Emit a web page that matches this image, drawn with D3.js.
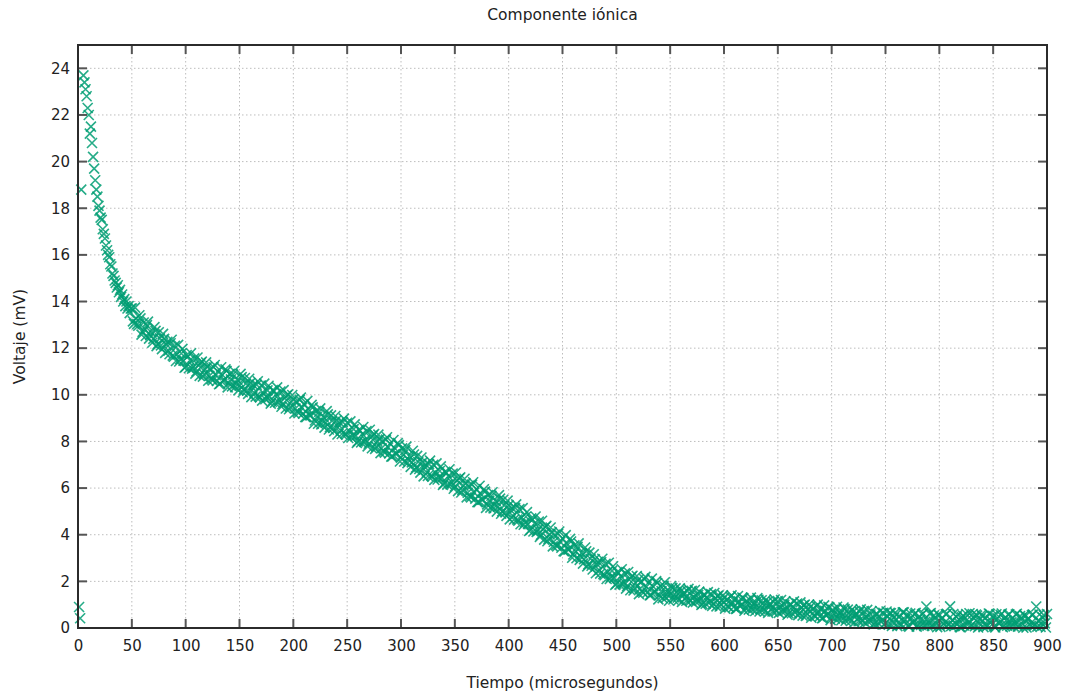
<!DOCTYPE html>
<html>
  <head>
    <title>Componente iónica</title>
    <script src="https://cdn.jsdelivr.net/npm/d3@7"></script>
    <style>
      body { margin: 0; background: #fff; }
      text { font-family: "DejaVu Sans", Verdana, sans-serif; fill: #222; }
      .grid line { stroke: #bdbdbd; stroke-dasharray: 1.5,2.5; }
      .tick-mark { stroke: #555; stroke-width: 2; }
      .marca { fill: none; stroke: #009e73; stroke-width: 1.6; stroke-opacity: 0.85; }
    </style>
  </head>
  <body>
    <svg id="chart" width="1069" height="694"></svg>

    <script>
      // puntos sueltos al inicio (µs, mV)
      var tiempoAtipicos = [1, 2, 3];
      var voltajeAtipicos = [0.9, 0.42, 18.8];

      // tramo rápido: desde 5 µs, cada 1 µs
      var tInicio = 5, pasoInicio = 1;
      var voltajeInicio = [
        23.7, 23.4, 23.1, 22.8, 22.3, 22.0, 21.2, 21.5, 20.8, 20.2,
        19.7, 19.2, 18.8, 18.5, 18.1, 17.9, 17.6, 17.5, 17.1, 16.9,
        16.7, 16.4, 16.2, 16.0, 15.9, 15.6, 15.5, 15.2, 15.1, 14.9,
        14.8, 14.6, 14.7, 14.4, 14.5, 14.2, 14.3, 14.0, 14.1, 13.8,
        14.0, 13.7, 13.8, 13.5, 13.7
      ];

      // resto (muestras pares): desde 50 µs, cada 2 µs
      var tPrincipal = 50, pasoPrincipal = 2;
      var voltajePrincipal = [
        13.7,13.04,13.28,12.96,13.28,12.7,12.82,12.99,12.41,12.68,
        12.4,12.74,12.18,12.42,11.96,12.4,12.17,11.89,12.21,11.68,
        12.1,11.74,11.43,11.77,11.46,11.2,11.64,11.48,11.12,11.56,
        11.0,11.26,11.37,10.78,11.09,11.2,10.81,10.67,11.18,10.84,
        11.0,10.48,10.86,10.64,11.02,10.5,10.66,10.87,10.33,10.64,
        10.4,10.76,10.22,10.48,10.04,10.5,10.31,10.07,10.43,9.94,
        10.4,10.08,9.81,10.19,9.92,9.7,10.16,10.02,9.68,10.14,
        9.6,9.86,9.97,9.38,9.69,9.8,9.41,9.27,9.78,9.44,
        9.6,9.04,9.38,9.12,9.46,8.9,9.06,9.27,8.73,9.04,
        8.8,9.16,8.62,8.88,8.44,8.9,8.71,8.47,8.83,8.34,
        8.8,8.46,8.17,8.53,8.24,8.0,8.46,8.32,7.98,8.44,
        7.9,8.16,8.27,7.68,7.99,8.1,7.71,7.57,8.08,7.74,
        7.9,7.36,7.72,7.48,7.84,7.3,7.44,7.63,7.07,7.36,
        7.1,7.44,6.88,7.12,6.66,7.1,6.91,6.67,7.03,6.54,
        7.0,6.66,6.37,6.73,6.44,6.2,6.65,6.51,6.16,6.62,
        6.07,6.32,6.41,5.81,6.1,6.2,5.8,5.65,6.15,5.8,
        5.95,5.4,5.75,5.5,5.85,5.3,5.46,5.67,5.13,5.44,
        5.2,5.55,5.0,5.26,4.81,5.26,5.05,4.8,5.15,4.65,
        5.1,4.74,4.43,4.77,4.46,4.2,4.64,4.48,4.12,4.56,
        4.0,4.24,4.33,3.72,4.01,4.1,3.7,3.55,4.04,3.69,
        3.84,3.28,3.62,3.37,3.71,3.15,3.29,3.48,2.92,3.21,
        2.95,3.29,2.73,2.97,2.51,2.95,2.74,2.48,2.82,2.31,
        2.75,2.4,2.1,2.45,2.15,1.9,2.36,2.22,1.88,2.34,
        1.8,2.07,2.19,1.61,1.93,2.05,1.68,1.56,2.09,1.77,
        1.95,1.42,1.79,1.56,1.93,1.4,1.58,1.81,1.29,1.62,
        1.42,1.72,1.31,1.53,1.2,1.58,1.45,1.27,1.58,1.2,
        1.59,1.33,1.12,1.42,1.21,1.03,1.42,1.32,1.07,1.45,
        1.04,1.27,1.37,0.92,1.18,1.29,1.0,0.91,1.34,1.09,
        1.24,0.83,1.14,0.97,1.28,0.86,1.01,1.2,0.8,1.07,
        0.9,1.21,0.8,1.04,0.71,1.11,0.98,0.81,1.12,0.76,
        1.15,0.9,0.69,1.0,0.79,0.62,1.01,0.92,0.66,1.05,
        0.64,0.87,0.97,0.52,0.79,0.9,0.61,0.52,0.94,0.69,
        0.84,0.43,0.74,0.57,0.88,0.47,0.62,0.81,0.4,0.67,
        0.5,0.81,0.4,0.63,0.3,0.69,0.56,0.39,0.7,0.33,
        0.73,0.48,0.27,0.58,0.37,0.21,0.6,0.51,0.26,0.65,
        0.21,0.5,0.65,0.09,0.44,0.58,0.23,0.12,0.67,0.36,
        0.56,0.06,0.45,0.25,0.65,0.15,0.35,0.59,0.09,0.92,
        0.24,0.64,0.14,0.44,0.04,0.54,0.39,0.19,0.59,0.14,
        0.93,0.33,0.08,0.48,0.23,0.03,0.53,0.43,0.13,0.63,
        0.12,0.43,0.58,0.02,0.38,0.52,0.17,0.07,0.62,0.32,
        0.52,0.02,0.42,0.22,0.62,0.12,0.32,0.57,0.07,0.42,
        0.21,0.61,0.11,0.41,0.01,0.51,0.36,0.16,0.56,0.11,
        0.92,0.3,0.05,0.45,0.2,0.6
      ];

      // resto (muestras impares): desde 51 µs, cada 2 µs
      var tSecundario = 51, pasoSecundario = 2;
      var voltajeSecundario = [
        13.15,13.74,13.03,13.41,12.58,13.1,12.52,13.14,12.56,12.23,
        12.9,12.09,12.68,12.12,12.61,11.8,12.27,11.74,12.36,11.63,
        11.45,12.14,11.53,11.97,11.16,11.7,11.14,11.78,11.22,10.91,
        11.6,10.81,11.42,10.88,11.39,10.6,11.11,10.62,11.28,10.59,
        10.45,11.18,10.61,11.09,10.32,10.9,10.36,11.02,10.48,10.19,
        10.9,10.11,10.72,10.18,10.69,9.9,10.41,9.92,10.58,9.89,
        9.75,10.48,9.91,10.39,9.62,10.2,9.66,10.32,9.78,9.49,
        10.2,9.41,10.02,9.48,9.99,9.2,9.71,9.22,9.88,9.19,
        9.05,9.74,9.13,9.57,8.76,9.3,8.76,9.42,8.88,8.59,
        9.3,8.51,9.12,8.58,9.09,8.3,8.81,8.32,8.98,8.29,
        8.15,8.86,8.27,8.73,7.94,8.5,7.96,8.62,8.08,7.79,
        8.5,7.71,8.32,7.78,8.29,7.5,8.01,7.52,8.18,7.49,
        7.35,8.06,7.47,7.93,7.14,7.7,7.14,7.78,7.22,6.91,
        7.6,6.79,7.38,6.82,7.31,6.5,7.01,6.52,7.18,6.49,
        6.35,7.06,6.47,6.93,6.14,6.7,6.15,6.81,6.26,5.97,
        6.67,5.87,6.46,5.91,6.4,5.6,6.1,5.6,6.25,5.55,
        5.4,6.1,5.5,5.95,5.15,5.7,5.16,5.82,5.28,4.99,
        5.7,4.9,5.5,4.96,5.46,4.66,5.15,4.65,5.3,4.6,
        4.45,5.14,4.53,4.97,4.16,4.7,4.14,4.78,4.22,3.91,
        4.6,3.79,4.38,3.82,4.31,3.5,4.0,3.5,4.14,3.44,
        3.29,3.98,3.37,3.82,3.01,3.55,2.99,3.63,3.07,2.76,
        3.45,2.64,3.23,2.67,3.16,2.35,2.84,2.33,2.97,2.26,
        2.1,2.8,2.2,2.65,1.85,2.4,1.86,2.52,1.98,1.69,
        2.4,1.62,2.24,1.71,2.23,1.45,1.98,1.51,2.19,1.52,
        1.4,2.12,1.54,2.01,1.23,1.8,1.28,1.96,1.44,1.17,
        1.8,1.22,1.7,1.3,1.7,1.12,1.52,1.17,1.68,1.17,
        1.09,1.63,1.21,1.56,0.99,1.42,1.04,1.54,1.16,0.95,
        1.5,0.93,1.4,1.01,1.4,0.83,1.23,0.88,1.4,0.9,
        0.82,1.37,0.95,1.31,0.74,1.17,0.79,1.3,0.93,0.73,
        1.28,0.71,1.19,0.81,1.21,0.65,1.05,0.71,1.22,0.73,
        0.65,1.2,0.78,1.14,0.57,1.01,0.63,1.14,0.75,0.55,
        1.1,0.53,1.0,0.61,1.01,0.44,0.84,0.5,1.0,0.5,
        0.42,0.97,0.55,0.91,0.34,0.78,0.4,0.91,0.53,0.33,
        0.88,0.31,0.79,0.4,0.8,0.23,0.63,0.29,0.8,0.3,
        0.23,0.78,0.36,0.72,0.15,0.6,0.22,0.73,0.35,0.15,
        0.71,0.14,0.63,0.24,0.65,0.08,0.49,0.15,0.67,0.17,
        0.1,0.62,0.24,0.59,0.06,0.48,0.13,0.62,0.27,0.1,
        0.61,0.09,0.54,0.19,0.58,0.05,0.44,0.12,0.61,0.16,
        0.08,0.6,0.22,0.57,0.04,0.46,0.11,0.6,0.25,0.08,
        0.6,0.08,0.53,0.18,0.57,0.04,0.43,0.11,0.6,0.15,
        0.07,0.59,0.21,0.56,0.03,0.45,0.1,0.59,0.24,0.07,
        0.58,0.06,0.51,0.16,0.55,0.02,0.41,0.09,0.58,0.13,
        0.06,0.58,0.2,0.55,0.02
      ];

      var ticksX = [0, 50, 100, 150, 200, 250, 300, 350, 400, 450, 500, 550, 600, 650, 700, 750, 800, 850, 900];
      var ticksY = [0, 2, 4, 6, 8, 10, 12, 14, 16, 18, 20, 22, 24];

      var puntos = [];
      tiempoAtipicos.forEach((t, i) => puntos.push({t: t, v: voltajeAtipicos[i]}));
      voltajeInicio.forEach((v, i) => puntos.push({t: tInicio + i * pasoInicio, v: v}));
      voltajePrincipal.forEach((v, i) => puntos.push({t: tPrincipal + i * pasoPrincipal, v: v}));
      voltajeSecundario.forEach((v, i) => puntos.push({t: tSecundario + i * pasoSecundario, v: v}));

      var margin = {top: 45, right: 22, bottom: 66, left: 78};
      var width = 1069 - margin.left - margin.right;
      var height = 694 - margin.top - margin.bottom;

      var svg = d3.select("#chart");
      var g = svg.append("g").attr("transform", `translate(${margin.left},${margin.top})`);

      var x = d3.scaleLinear().domain([0, 900]).range([0, width]);
      var y = d3.scaleLinear().domain([0, 25]).range([height, 0]);

      // rejilla punteada
      var grid = g.append("g").attr("class", "grid");
      grid.selectAll("line.gx")
        .data(ticksX.slice(1, -1))
        .enter().append("line")
          .attr("x1", d => x(d)).attr("x2", d => x(d))
          .attr("y1", 0).attr("y2", height);
      grid.selectAll("line.gy")
        .data(ticksY.slice(1))
        .enter().append("line")
          .attr("x1", 0).attr("x2", width)
          .attr("y1", d => y(d)).attr("y2", d => y(d));

      // marcas en forma de x
      var s = 5;
      g.append("g").selectAll("path")
        .data(puntos)
        .enter().append("path")
          .attr("class", "marca")
          .attr("transform", d => `translate(${x(d.t)},${y(d.v)})`)
          .attr("d", `M${-s},${-s}L${s},${s}M${-s},${s}L${s},${-s}`);

      // ejes con marcas hacia dentro en los cuatro lados
      var tl = 9;
      var axB = d3.axisBottom(x).tickValues(ticksX).tickSize(0).tickPadding(12);
      var axL = d3.axisLeft(y).tickValues(ticksY).tickSize(0).tickPadding(8);
      g.append("g").attr("transform", `translate(0,${height})`).call(axB)
        .call(a => a.select(".domain").remove())
        .selectAll("text").style("font-size", "15px").style("fill", "#222");
      g.append("g").call(axL)
        .call(a => a.select(".domain").remove())
        .selectAll("text").style("font-size", "15px").style("fill", "#222");

      var marcas = g.append("g");
      ticksX.slice(1, -1).forEach(t => {
        marcas.append("line").attr("class", "tick-mark")
          .attr("x1", x(t)).attr("x2", x(t)).attr("y1", height).attr("y2", height - tl);
        marcas.append("line").attr("class", "tick-mark")
          .attr("x1", x(t)).attr("x2", x(t)).attr("y1", 0).attr("y2", tl);
      });
      ticksY.slice(1).forEach(v => {
        marcas.append("line").attr("class", "tick-mark")
          .attr("x1", 0).attr("x2", tl).attr("y1", y(v)).attr("y2", y(v));
        marcas.append("line").attr("class", "tick-mark")
          .attr("x1", width).attr("x2", width - tl).attr("y1", y(v)).attr("y2", y(v));
      });

      g.append("rect")
        .attr("width", width).attr("height", height)
        .style("fill", "none").style("stroke", "#2b2b2b").style("stroke-width", 2);

      // textos
      svg.append("text")
        .attr("x", margin.left + width / 2).attr("y", 20)
        .attr("text-anchor", "middle").style("font-size", "15.5px")
        .text("Componente iónica");
      svg.append("text")
        .attr("x", margin.left + width / 2).attr("y", 688)
        .attr("text-anchor", "middle").style("font-size", "15.5px")
        .text("Tiempo (microsegundos)");
      svg.append("text")
        .attr("transform", `translate(25,${margin.top + height / 2}) rotate(-90)`)
        .attr("text-anchor", "middle").style("font-size", "15.5px")
        .text("Voltaje (mV)");
    </script>
  </body>
</html>
